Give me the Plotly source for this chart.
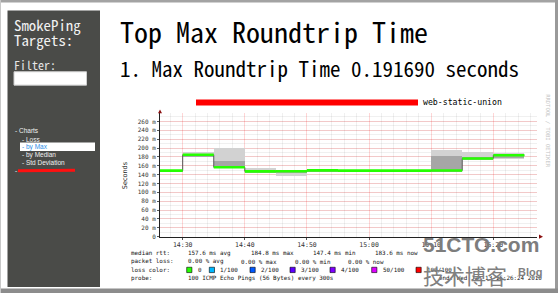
import plotly.graph_objects as go
import pandas as pd

W, H = 558, 296
DAY = "2010-01-13 "

# ---------------- data ----------------
slot_start = ["14:25", "14:30", "14:35", "14:40", "14:45", "14:50",
              "14:55", "15:00", "15:05", "15:10", "15:15", "15:20"]
median_ms = [149.0, 184.8, 156.5, 147.4, 147.6, 149.6, 149.0, 149.0, 149.0, 149.2, 176.5, 183.6]
smoke_lo = [148.0, 180.5, 155.5, 146.5, 137.5, 148.0, 148.0, 148.0, 148.0, 147.0, 173.0, 177.0]
smoke_hi = [150.5, 191.5, 200.5, 155.5, 148.5, 150.5, 150.0, 150.5, 150.5, 196.0, 193.0, 189.0]
core_lo = [148.5, 180.5, 155.5, 146.5, 146.0, 148.5, 148.5, 148.5, 148.5, 147.5, 173.0, 177.5]
core_hi = [149.5, 186.0, 172.0, 150.0, 148.0, 150.0, 149.5, 149.5, 149.5, 182.0, 181.0, 186.0]

y_tick_vals = [0, 20, 40, 60, 80, 100, 120, 140, 160, 180, 200, 220, 240, 260]
y_tick_text = ["0"] + [f"{v} m" for v in y_tick_vals[1:]]

median_stats = ["157.6 ms avg", "184.8 ms max", "147.4 ms min", "183.6 ms now"]
loss_stats = ["0.00 % avg", "0.00 % max", "0.00 % min", "0.00 % now"]
loss_levels = ["0", "1/100", "2/100", "3/100", "4/100", "50/100", "100/100"]
loss_colors = ["#26ff00", "#00b8ff", "#0059ff", "#5e00ff", "#7e00ff", "#dd00ff", "#ff0000"]
tree_items = ["Loss", "by Max", "by Median", "Std Deviation"]

MONO = "Noto Sans Mono CJK SC, Liberation Mono, monospace"
RRD = "DejaVu Sans Mono, monospace"
SANS = "Liberation Sans, Arial, sans-serif"

t0 = pd.to_datetime([DAY + s for s in slot_start])
t1 = t0 + pd.Timedelta(minutes=5)
mid = t0 + pd.Timedelta(minutes=2.5)

fig = go.Figure()

# smoke (outer light band, inner darker band)
fig.add_trace(go.Bar(x=mid, base=smoke_lo, y=[h - l for h, l in zip(smoke_hi, smoke_lo)],
                     width=300000, marker=dict(color="#d2d2d2", line=dict(width=0)),
                     hoverinfo="skip"))
fig.add_trace(go.Bar(x=mid, base=core_lo, y=[h - l for h, l in zip(core_hi, core_lo)],
                     width=300000, marker=dict(color="#a6a6a6", line=dict(width=0)),
                     hoverinfo="skip"))

# step connector
fig.add_trace(go.Scatter(x=list(t0) + [t1[-1]], y=median_ms + [median_ms[-1]],
                         mode="lines", line=dict(color="#555555", width=1, shape="hv"),
                         hoverinfo="skip"))
# green median segments (0 loss)
gx, gy = [], []
for a, b, m in zip(t0, t1, median_ms):
    gx += [a, b, None]
    gy += [m, m, None]
fig.add_trace(go.Scatter(x=gx, y=gy, mode="lines",
                         line=dict(color=loss_colors[0], width=2.6), hoverinfo="skip"))


def px(x):
    return x / W


def py(y):
    return 1 - y / H


def txt(x, y, s, size, color="#000", family=MONO, xanchor="left", **kw):
    return dict(x=px(x), y=py(y), xref="paper", yref="paper", text=s, showarrow=False,
                xanchor=xanchor, yanchor="middle",
                font=dict(size=size, color=color, family=family), **kw)


def rect(x0, y0, x1, y1, fill, line=None, lw=0):
    return dict(type="rect", xref="paper", yref="paper", x0=px(x0), x1=px(x1),
                y0=py(y1), y1=py(y0), fillcolor=fill,
                line=dict(color=line or fill, width=lw), layer="above")


shapes = []
ann = []

# frame of the screenshot
shapes.append(rect(0, 0, 558, 2.5, "#a3a3a3"))
shapes.append(rect(555, 0, 558, 296, "#9a9a9a"))
shapes.append(rect(0, 291.5, 558, 296, "#8c8c8c"))
shapes.append(rect(0, 0, 1, 296, "#c8c8c8"))

# sidebar
shapes.append(rect(7.5, 10.5, 100, 290, "#4a4b48"))
shapes.append(rect(14, 72.5, 86.5, 86, "#ffffff", "#cfcfcf", 1))
shapes.append(rect(20, 144, 95, 152.5, "#ffffff"))
shapes.append(dict(type="line", xref="paper", yref="paper", x0=px(18), x1=px(75),
                   y0=py(172.5), y1=py(172), line=dict(color="#ff1010", width=3),
                   layer="above"))
ann.append(txt(12, 24.5, "SmokePing", 14.8, "#f2f2f2"))
ann.append(txt(12, 39.5, "Targets:", 14.8, "#f2f2f2"))
ann.append(txt(12, 65, "Filter:", 12, "#e6e6e6"))
ann.append(txt(13, 132, "- Charts", 6.5, "#f0f0f0", SANS))
tree_y = [140.7, 148.2, 156.3, 164.3]
for item, yy in zip(tree_items, tree_y):
    col = "#2f8fe8" if item == "by Max" else "#f0f0f0"
    ann.append(txt(20, yy, "- " + item, 6.5, col, SANS))
ann.append(txt(13, 172.5, "-", 6.5, "#f0f0f0", SANS))

# headings
ann.append(txt(118, 31, "Top Max Roundtrip Time", 28, "#000"))
ann.append(txt(118, 69, "1. Max Roundtrip Time 0.191690 seconds", 21, "#000"))

# graph title
shapes.append(dict(type="line", xref="paper", yref="paper", x0=px(196), x1=px(418),
                   y0=py(103.5), y1=py(103.5), line=dict(color="#ff0000", width=6),
                   layer="above"))
ann.append(txt(421, 103.3, "web-static-union", 8.2, "#000", RRD))
ann.append(txt(548, 132.5, "RRDTOOL / TOBI OETIKER", 5.5, "#c4c4c4", RRD,
               xanchor="center", textangle=90))
ann.append(txt(125, 177, "Seconds", 6.5, "#222", "DejaVu Sans, sans-serif",
               xanchor="center", textangle=-90))

# axis arrows
shapes.append(dict(type="path", xref="paper", yref="paper",
                   path=f"M {px(158)} {py(114.5)} L {px(162)} {py(114.5)} L {px(160)} {py(110.5)} Z",
                   fillcolor="#8b1010", line=dict(width=0), layer="above"))
shapes.append(dict(type="path", xref="paper", yref="paper",
                   path=f"M {px(539)} {py(237)} L {px(539)} {py(241.2)} L {px(543)} {py(239.1)} Z",
                   fillcolor="#8b1010", line=dict(width=0), layer="above"))

# legend text
ann.append(txt(129, 255.7, "median rtt:", 5.9, "#111", RRD))
for s, xx in zip(median_stats, [185.5, 249, 310.5, 373]):
    ann.append(txt(xx, 255.7, s, 5.9, "#111", RRD))
ann.append(txt(129, 264.3, "packet loss:", 5.9, "#111", RRD))
for s, xx in zip(loss_stats, [185.5, 238.8, 292.5, 346.3]):
    ann.append(txt(xx, 264.3, s, 5.9, "#111", RRD))
ann.append(txt(129, 272.8, "loss color:", 5.9, "#111", RRD))
for lev, col, xx in zip(loss_levels, loss_colors, [186.7, 209.3, 250, 290, 330, 371.7, 416]):
    shapes.append(rect(xx, 270, xx + 5.2, 275.4, col, "#000", 0.6))
    ann.append(txt(xx + 9, 272.8, lev, 5.9, "#111", RRD))
ann.append(txt(129, 281.2, "probe:", 5.9, "#111", RRD))
ann.append(txt(185.5, 281.2, "100 ICMP Echo Pings (56 Bytes) every 300s", 5.9, "#111", RRD))
ann.append(txt(544, 281.2, "end: Wed Jan 13 15:26:24 2010", 5.9, "#111", RRD, xanchor="right"))

# watermark
ann.append(txt(421, 247, "<b>51CTO.com</b>", 21, "#7d7d7d", SANS))
ann.append(txt(421, 277.5, "技术博客", 21, "#808080", "Noto Sans CJK SC"))
ann.append(txt(516, 274.5, "<b>Blog</b>", 11, "#808080", SANS))

grid_major = "rgba(255,0,0,0.16)"
grid_minor = "rgba(60,60,60,0.08)"

fig.update_layout(
    width=W, height=H, margin=dict(l=0, r=0, t=0, b=0),
    paper_bgcolor="#ffffff", plot_bgcolor="#ffffff",
    showlegend=False, barmode="overlay", bargap=0,
    shapes=shapes, annotations=ann,
    xaxis=dict(type="date", range=[DAY + "14:26:21", DAY + "15:27:02"],
               domain=[px(160), px(537)], anchor="y",
               tickformat="%H:%M", tick0=DAY + "14:30", dtick=600000,
               showgrid=True, gridcolor=grid_major, gridwidth=1,
               minor=dict(dtick=120000, tick0=DAY + "14:30", showgrid=True,
                          gridcolor=grid_minor, ticks=""),
               showline=True, linecolor="#222", linewidth=1,
               ticks="outside", ticklen=2, tickcolor="#555",
               tickfont=dict(family=RRD, size=6.5, color="#333"),
               zeroline=False, fixedrange=True),
    yaxis=dict(range=[0, 280], domain=[py(239.1), py(113.7)], anchor="x",
               tickvals=y_tick_vals, ticktext=y_tick_text,
               showgrid=True, gridcolor=grid_major, gridwidth=1,
               minor=dict(dtick=10, tick0=0, showgrid=True, gridcolor=grid_minor, ticks=""),
               showline=True, linecolor="#222", linewidth=1,
               ticks="outside", ticklen=2, tickcolor="#555",
               tickfont=dict(family=RRD, size=6, color="#333"),
               zeroline=False, fixedrange=True),
)

fig.write_html("out.html")
